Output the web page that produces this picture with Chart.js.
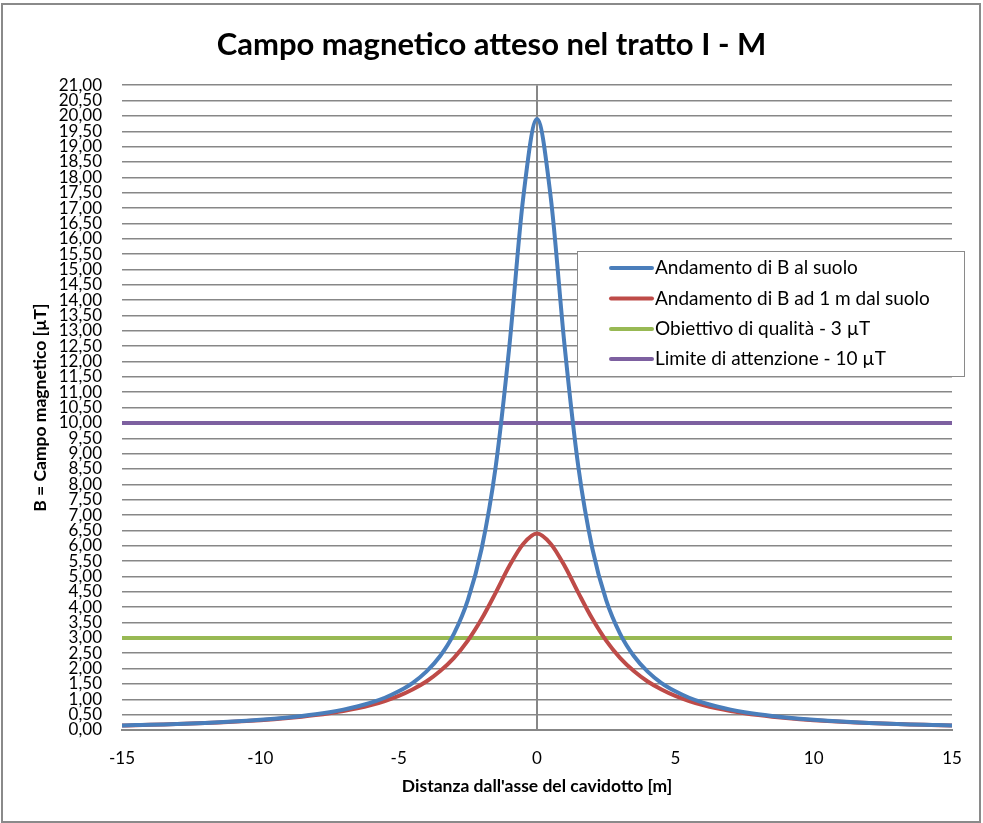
<!DOCTYPE html>
<html>
<head>
<meta charset="utf-8">
<script src="https://cdn.jsdelivr.net/npm/chart.js@4.4.0/dist/chart.umd.min.js"></script>
<style>
  html, body { margin: 0; padding: 0; background: #ffffff; }
  #wrap { position: relative; width: 983px; height: 823px; }
  #frame { position: absolute; left: 1px; top: 3px; width: 980px; height: 820px; box-sizing: border-box; border: 2px solid #8a8a8a; pointer-events: none; }
  canvas { position: absolute; left: 0; top: 0; }
</style>
</head>
<body>
<div id="wrap">
  <canvas id="c" width="983" height="823"></canvas>
  <div id="frame"></div>
</div>
<script>
// ---- Data ----
const titleText = "Campo magnetico atteso nel tratto I - M";
const xAxisTitle = "Distanza dall'asse del cavidotto [m]";
const yAxisTitle = "B = Campo magnetico [µT]";
const seriesLabels = [
  "Andamento di B al suolo",
  "Andamento di B ad 1 m dal suolo",
  "Obiettivo di qualità - 3 µT",
  "Limite di attenzione - 10 µT"
];
const xTickValues = [-15, -10, -5, 0, 5, 10, 15];

const distances = [
  -15, -14.5, -14, -13.5, -13, -12.5, -12, -11.5, -11, -10.5,
  -10, -9.5, -9, -8.5, -8, -7.5, -7, -6.5, -6, -5.5,
  -5, -4.5, -4, -3.5, -3, -2.5, -2, -1.5, -1, -0.5,
  0,
  0.5, 1, 1.5, 2, 2.5, 3, 3.5, 4, 4.5, 5,
  5.5, 6, 6.5, 7, 7.5, 8, 8.5, 9, 9.5, 10,
  10.5, 11, 11.5, 12, 12.5, 13, 13.5, 14, 14.5, 15
];
const bGround = [
  0.148, 0.159, 0.170, 0.183, 0.197, 0.213, 0.231, 0.251, 0.274, 0.300,
  0.330, 0.365, 0.406, 0.454, 0.511, 0.580, 0.663, 0.765, 0.891, 1.05,
  1.26, 1.53, 1.90, 2.41, 3.14, 4.23, 5.91, 8.53, 12.49, 17.32,
  19.90,
  17.32, 12.49, 8.53, 5.91, 4.23, 3.14, 2.41, 1.90, 1.53, 1.26,
  1.05, 0.891, 0.765, 0.663, 0.580, 0.511, 0.454, 0.406, 0.365, 0.330,
  0.300, 0.274, 0.251, 0.231, 0.213, 0.197, 0.183, 0.170, 0.159, 0.148
];
const bOneMeter = [
  0.146, 0.156, 0.167, 0.179, 0.193, 0.208, 0.225, 0.244, 0.266, 0.291,
  0.319, 0.352, 0.389, 0.433, 0.485, 0.546, 0.619, 0.707, 0.814, 0.945,
  1.11, 1.32, 1.58, 1.92, 2.35, 2.91, 3.62, 4.46, 5.34, 6.06,
  6.40,
  6.06, 5.34, 4.46, 3.62, 2.91, 2.35, 1.92, 1.58, 1.32, 1.11,
  0.945, 0.814, 0.707, 0.619, 0.546, 0.485, 0.433, 0.389, 0.352, 0.319,
  0.291, 0.266, 0.244, 0.225, 0.208, 0.193, 0.179, 0.167, 0.156, 0.146
];
const qualityTargetX = [-15, 15];
const qualityTargetY = [3, 3];
const attentionLimitX = [-15, 15];
const attentionLimitY = [10, 10];

const colors = ["#4a7ebb", "#be4b48", "#98b954", "#7d60a0"];

const toPoints = (xs, ys) => xs.map((x, i) => ({ x: x, y: ys[i] }));

const FONT = "Lato, 'Open Sans', sans-serif";
const GRID = "#878787";

const legendPlugin = {
  id: 'boxLegend',
  afterDraw(chart) {
    const ctx = chart.ctx;
    const box = { x: 577.5, y: 251.5, w: 387, h: 125 };
    ctx.save();
    ctx.fillStyle = '#ffffff';
    ctx.fillRect(box.x, box.y, box.w, box.h);
    ctx.strokeStyle = '#8a8a8a';
    ctx.lineWidth = 1;
    ctx.strokeRect(box.x, box.y, box.w, box.h);
    const rows = [268, 298.5, 329, 359];
    chart.data.datasets.forEach((ds, i) => {
      const y = rows[i];
      ctx.strokeStyle = ds.borderColor;
      ctx.lineWidth = 4;
      ctx.lineCap = 'round';
      ctx.beginPath();
      ctx.moveTo(611, y);
      ctx.lineTo(652, y);
      ctx.stroke();
      ctx.fillStyle = '#000000';
      ctx.font = "19px " + FONT;
      ctx.textAlign = 'left';
      ctx.textBaseline = 'middle';
      ctx.fillText(ds.label, 655, y);
    });
    ctx.restore();
  }
};

new Chart(document.getElementById('c'), {
  type: 'line',
  data: {
    datasets: [
      { label: seriesLabels[0], data: toPoints(distances, bGround), borderColor: colors[0], backgroundColor: colors[0], borderWidth: 4, pointRadius: 0, tension: 0.4, cubicInterpolationMode: 'monotone' },
      { label: seriesLabels[1], data: toPoints(distances, bOneMeter), borderColor: colors[1], backgroundColor: colors[1], borderWidth: 4, pointRadius: 0, tension: 0.4, cubicInterpolationMode: 'monotone' },
      { label: seriesLabels[2], data: toPoints(qualityTargetX, qualityTargetY), borderColor: colors[2], backgroundColor: colors[2], borderWidth: 4, pointRadius: 0 },
      { label: seriesLabels[3], data: toPoints(attentionLimitX, attentionLimitY), borderColor: colors[3], backgroundColor: colors[3], borderWidth: 4, pointRadius: 0 }
    ]
  },
  options: {
    responsive: false,
    animation: false,
    devicePixelRatio: 1,
    layout: { padding: { left: 0, right: 0, top: 0, bottom: 0 } },
    plugins: {
      legend: { display: false },
      tooltip: { enabled: false },
      title: {
        display: true,
        text: titleText,
        color: '#000000',
        font: { family: FONT, size: 31, weight: 'bold' },
        padding: { top: 26, bottom: 22 }
      }
    },
    scales: {
      x: {
        type: 'linear',
        min: -15, max: 15,
        afterFit(scale) { scale.height = 93; },
        afterBuildTicks(scale) { scale.ticks = xTickValues.map(v => ({ value: v })); },
        border: { display: true, color: GRID, width: 2 },
        grid: {
          drawTicks: false,
          lineWidth: 2,
          color: (c) => (c.tick && c.tick.value === 0) ? GRID : 'rgba(0,0,0,0)'
        },
        ticks: { color: '#000000', font: { family: FONT, size: 17 }, padding: 18, maxRotation: 0 },
        title: { display: true, text: xAxisTitle, color: '#000000', font: { family: FONT, size: 17.5, weight: 'bold' }, padding: { top: 0, bottom: 26 } }
      },
      y: {
        type: 'linear',
        min: 0, max: 21,
        afterFit(scale) { scale.width = 122; },
        border: { display: false },
        grid: { drawTicks: false, color: GRID, lineWidth: 1.5 },
        ticks: {
          stepSize: 0.5,
          autoSkip: false,
          color: '#000000',
          font: { family: FONT, size: 17 },
          padding: 20,
          callback: (v) => v.toFixed(2).replace('.', ',')
        },
        title: { display: true, text: yAxisTitle, color: '#000000', font: { family: FONT, size: 17.5, weight: 'bold' }, padding: { top: 30, bottom: 0 } }
      },
      rightSpace: {
        type: 'linear',
        position: 'right',
        min: 0, max: 1,
        afterFit(scale) { scale.width = 31; },
        border: { display: false },
        grid: { display: false, drawTicks: false },
        ticks: { display: false }
      }
    }
  },
  plugins: [legendPlugin]
});
</script>
</body>
</html>
